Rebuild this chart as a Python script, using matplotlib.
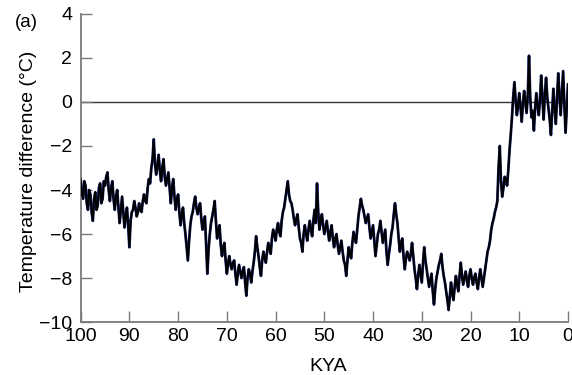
import matplotlib
matplotlib.use("Agg")
import matplotlib.pyplot as plt
import numpy as np

# Temperature difference (deg C).
# Main readings every 0.5 kyr, from 100 KYA down to 0 KYA.
temp_main = [
    -3.5, -4.4, -3.8, -4.9, -4.2, -5.4, -4.1, -4.7, -3.7, -4.4,   # 100 - 95.5
    -3.8, -3.2, -4.5, -3.6, -4.9, -4.0, -5.5, -4.3, -5.7, -4.8,   # 95 - 90.5
    -6.6, -5.0, -4.5, -5.2, -4.6, -5.0, -4.2, -4.6, -3.5, -3.0,   # 90 - 85.5
    -1.7, -3.3, -2.4, -3.6, -2.6, -3.8, -3.2, -4.6, -3.5, -4.9,   # 85 - 80.5
    -4.2, -5.6, -4.8, -6.0, -7.2, -5.6, -5.0, -4.3, -5.1, -4.6,   # 80 - 75.5
    -5.8, -5.2, -7.8, -6.0, -5.2, -4.5, -6.2, -5.6, -7.0, -6.4,   # 75 - 70.5
    -7.8, -7.0, -7.6, -7.2, -8.3, -7.4, -8.0, -7.5, -8.8, -7.6,   # 70 - 65.5
    -8.2, -7.3, -6.1, -7.0, -7.9, -6.8, -7.3, -6.4, -6.9, -5.8,   # 65 - 60.5
    -6.3, -5.5, -6.1, -5.0, -4.4, -3.6, -4.5, -4.9, -5.6, -5.1,   # 60 - 55.5
    -6.2, -6.8, -5.6, -6.3, -5.4, -6.1, -4.9, -3.7, -5.8, -5.1,   # 55 - 50.5
    -6.0, -5.4, -6.3, -5.6, -6.6, -6.0, -6.9, -6.3, -7.2, -7.9,   # 50 - 45.5
    -6.6, -7.1, -5.9, -6.4, -5.2, -4.4, -4.9, -5.5, -5.1, -6.2,   # 45 - 40.5
    -5.6, -7.0, -6.0, -5.4, -6.4, -5.8, -7.4, -6.5, -5.7, -4.6,   # 40 - 35.5
    -5.5, -6.8, -6.2, -7.6, -6.8, -7.2, -6.4, -7.6, -8.5, -7.4,   # 35 - 30.5
    -8.2, -6.6, -7.6, -8.4, -7.8, -9.2, -8.0, -7.4, -6.9, -7.9,   # 30 - 25.5
    -8.6, -9.45, -8.2, -9.0, -7.9, -8.6, -7.3, -8.3, -7.7, -8.4,  # 25 - 20.5
    -7.6, -8.3, -7.8, -8.5, -7.6, -8.4, -7.6, -6.8, -6.3, -5.5,   # 20 - 15.5
    -5.0, -4.5, -2.0, -4.3, -3.4, -3.8, -2.2, -0.7, 0.9, -0.6,    # 15 - 10.5
    0.4, -0.9, 0.5, -0.5, 2.1, -0.7, -1.3, 0.4, -0.6, 1.2,        # 10 - 5.5
    -0.8, 1.1, -0.3, -1.5, 0.6, -1.0, 1.3, -0.6, 1.4, -1.4,       # 5 - 0.5
    0.8,                                                          # 0
]

# In-between readings at 99.75, 99.25, ..., 0.25 KYA.
temp_mid = [
    -4.2, -3.6, -4.6, -4.0, -5.0, -4.4, -4.9, -3.9, -4.6, -3.6,   # 99.75 - 95.25
    -3.4, -4.0, -3.9, -4.4, -4.3, -4.8, -4.9, -5.0, -5.2, -5.6,   # 94.75 - 90.25
    -5.4, -4.9, -4.8, -5.0, -4.9, -4.5, -4.5, -3.9, -3.7, -2.6,   # 89.75 - 85.25
    -2.8, -2.9, -3.1, -3.0, -3.4, -3.5, -3.9, -3.9, -4.3, -4.4,   # 84.75 - 80.25
    -5.0, -5.1, -5.5, -6.6, -6.3, -5.2, -4.6, -4.8, -4.8, -5.3,   # 79.75 - 75.25
    -5.4, -6.5, -6.7, -5.5, -4.9, -5.4, -5.8, -6.5, -6.6, -7.2,   # 74.75 - 70.25
    -7.3, -7.4, -7.3, -7.8, -7.8, -7.7, -7.7, -8.2, -8.0, -7.8,   # 69.75 - 65.25
    -7.7, -6.8, -6.6, -7.5, -7.2, -7.1, -6.8, -6.7, -6.2, -6.0,   # 64.75 - 60.25
    -5.8, -5.9, -5.4, -4.8, -4.0, -4.2, -4.6, -5.3, -5.3, -5.7,   # 59.75 - 55.25
    -6.4, -6.0, -6.0, -5.8, -5.8, -5.4, -5.5, -5.0, -5.4, -5.6,   # 54.75 - 50.25
    -5.7, -5.9, -5.9, -6.2, -6.2, -6.5, -6.6, -6.8, -7.4, -7.2,   # 49.75 - 45.25
    -6.9, -6.4, -6.2, -5.8, -4.8, -4.7, -5.2, -5.3, -5.7, -5.9,   # 44.75 - 40.25
    -6.3, -6.5, -5.8, -5.9, -6.1, -6.8, -6.9, -6.0, -5.1, -5.1,   # 39.75 - 35.25
    -6.2, -6.4, -7.0, -7.1, -7.0, -6.9, -7.0, -8.0, -7.9, -7.8,   # 34.75 - 30.25
    -7.3, -7.2, -8.0, -8.1, -8.6, -8.5, -7.7, -7.2, -7.5, -8.2,   # 29.75 - 25.25
    -9.0, -8.8, -8.7, -8.4, -8.3, -7.9, -7.9, -8.0, -8.1, -7.9,   # 24.75 - 20.25
    -8.0, -8.0, -8.2, -8.0, -8.0, -8.0, -7.2, -6.6, -5.8, -5.3,   # 19.75 - 15.25
    -4.8, -3.0, -3.6, -3.9, -3.5, -3.1, -1.5, 0.2, 0.1, -0.2,     # 14.75 - 10.25
    -0.2, -0.1, 0.0, 0.3, 0.2, -0.4, -0.3, -0.2, 0.1, 0.2,        # 9.75 - 5.25
    0.3, 0.2, -0.8, -0.4, -0.3, 0.2, 0.3, 0.4, -0.1, -0.3,        # 4.75 - 0.25
]

kya_main = [100.0 - 0.5 * i for i in range(len(temp_main))]
kya_mid = [99.75 - 0.5 * i for i in range(len(temp_mid))]

x_ticks = [100, 90, 80, 70, 60, 50, 40, 30, 20, 10, 0]
y_ticks = [-10, -8, -6, -4, -2, 0, 2, 4]

# merge the two reading sets in time order
kya = np.empty(len(kya_main) + len(kya_mid))
temp = np.empty_like(kya)
kya[0::2] = kya_main
kya[1::2] = kya_mid
temp[0::2] = temp_main
temp[1::2] = temp_mid

plt.rcParams['font.family'] = ['Liberation Sans', 'DejaVu Sans']

fig = plt.figure(figsize=(5.72, 3.75), dpi=100)
ax = fig.add_axes([0.141, 0.141, 0.852, 0.822])

ax.axhline(0, color='#333333', lw=1.0, zorder=1)
ax.plot(kya, temp, color='#1c2a78', lw=2.0, zorder=2)
ax.plot(kya, temp, color='black', lw=1.4, zorder=3)

ax.set_xlim(100, 0)
ax.set_ylim(-10, 4)
ax.set_xticks(x_ticks)
ax.set_yticks(y_ticks)
ax.set_yticklabels([str(v).replace('-', '\u2212') for v in y_ticks])

for s in ['top', 'right']:
    ax.spines[s].set_visible(False)
for s in ['left', 'bottom']:
    ax.spines[s].set_color('#7a7a7a')
    ax.spines[s].set_linewidth(1.3)

ax.tick_params(direction='in', length=8, width=1.0, color='#7a7a7a',
               labelsize=14)
ax.tick_params(axis='y', pad=6)
ax.tick_params(axis='x', pad=4.5)
ax.set_xlabel('KYA', fontsize=14)
ax.xaxis.set_label_coords(0.508, -0.115)
ax.set_ylabel('Temperature difference (\u00b0C)', fontsize=14)
ax.yaxis.set_label_coords(-0.09, 0.49)

fig.text(0.026, 0.941, '(a)', fontsize=13.5, va='center', ha='left')

fig.savefig('out.png', dpi=100)
